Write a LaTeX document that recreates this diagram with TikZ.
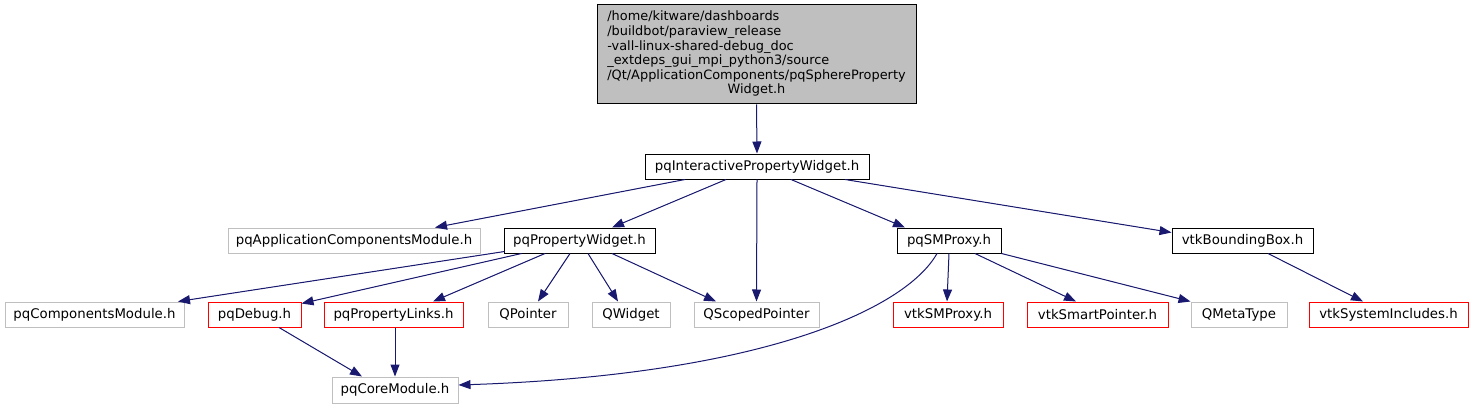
\documentclass[tikz,border=0pt]{standalone}
\usepackage{fontspec}
\setmainfont{DejaVu Sans}
\usetikzlibrary{arrows.meta}

\definecolor{edgeblue}{HTML}{191970}
\definecolor{extgray}{HTML}{BFBFBF}

\begin{document}
\begin{tikzpicture}[x=1pt, y=-1pt]
	\tikzstyle{box} = [draw, line width=1pt, inner sep=0, minimum height=25pt, font=\fontsize{13.3}{14.5}\selectfont]
	\tikzstyle{ext} = [box, draw=extgray]
	\tikzstyle{miss} = [box, draw=red]
	\tikzstyle{edge} = [draw=edgeblue, line width=1pt, -{Triangle[length=12pt, width=9pt]}, fill=edgeblue]

	\useasboundingbox (0,0) rectangle (1474,409);

	% the file itself
	\node[box, fill=extgray, minimum width=319pt, minimum height=99pt, font=\fontsize{12.9}{14.6}\selectfont] (top) at (756.5,54.5) {\begin{tabular}{@{}l@{}}
		/home/kitware/dashboards\\
		/buildbot/paraview\_release\\
		-vall-linux-shared-debug\_doc\\
		\_extdeps\_gui\_mpi\_python3/source\\
		/Qt/ApplicationComponents/pqSphereProperty\\
		\multicolumn{1}{@{}c@{}}{Widget.h}
	\end{tabular}};

	% second and third level
	\node[box, minimum width=224pt] (inter) at (757,166.5) {pqInteractivePropertyWidget.h};
	\node[ext, minimum width=252pt] (appcomp) at (354,240.5) {pqApplicationComponentsModule.h};
	\node[box, minimum width=151pt] (pw) at (579.5,240.5) {pqPropertyWidget.h};
	\node[box, minimum width=104pt] (smproxy) at (949,240.5) {pqSMProxy.h};
	\node[box, minimum width=141pt] (bbox) at (1242.5,240.5) {vtkBoundingBox.h};

	% leaves
	\node[ext, minimum width=179pt] (compmod) at (94.5,314.5) {pqComponentsModule.h};
	\node[miss, minimum width=93pt] (debug) at (254.5,314.5) {pqDebug.h};
	\node[miss, minimum width=139pt] (plinks) at (393.5,314.5) {pqPropertyLinks.h};
	\node[ext, minimum width=80pt] (qpointer) at (528,314.5) {QPointer};
	\node[ext, minimum width=78pt] (qwidget) at (631,314.5) {QWidget};
	\node[ext, minimum width=125pt] (qscoped) at (756.5,314.5) {QScopedPointer};
	\node[miss, minimum width=110pt] (vtksmproxy) at (948,314.5) {vtkSMProxy.h};
	\node[miss, minimum width=141pt] (smartptr) at (1097.5,314.5) {vtkSmartPointer.h};
	\node[ext, minimum width=96pt] (metatype) at (1239,314.5) {QMetaType};
	\node[miss, minimum width=159pt] (sysinc) at (1388.5,314.5) {vtkSystemIncludes.h};
	\node[ext, minimum width=126pt, minimum height=26pt] (coremod) at (395,390) {pqCoreModule.h};

	% straight includes, south to north
	\foreach \a/\sa/\b/\sb in {top/0/inter/0, inter/-72/appcomp/81, inter/-31/pw/32.5, inter/0/qscoped/0,
			inter/34/smproxy/-44, pw/-34.5/plinks/39.5, pw/-9.5/qpointer/10, pw/8.5/qwidget/-13,
			pw/32.5/qscoped/-40.5, smproxy/0/vtksmproxy/-1, smproxy/26/smartptr/-21.5,
			bbox/25.5/sysinc/-25.5, debug/24.5/coremod/-33, plinks/1.5/coremod/0} {
		\path[edge] ([xshift=\sa pt]\a.south) -- ([xshift=\sb pt]\b.north);
	}

	\path[edge] ([xshift=88pt]inter.south) -- ([yshift=-5pt]bbox.north west);
	\path[edge] ([xshift=1pt, yshift=2pt]pw.south west) -- ([xshift=83.5pt]compmod.north);
	\path[edge] ([xshift=18pt]pw.south west) -- ([yshift=-2pt]debug.north east);
	\path[edge] (smproxy.south east) -- (metatype.north west);
	\draw[edge, fill=none] ([xshift=-12pt]smproxy.south) .. controls (905,310) and (760,375) .. ([yshift=5pt]coremod.east);

\end{tikzpicture}
\end{document}
